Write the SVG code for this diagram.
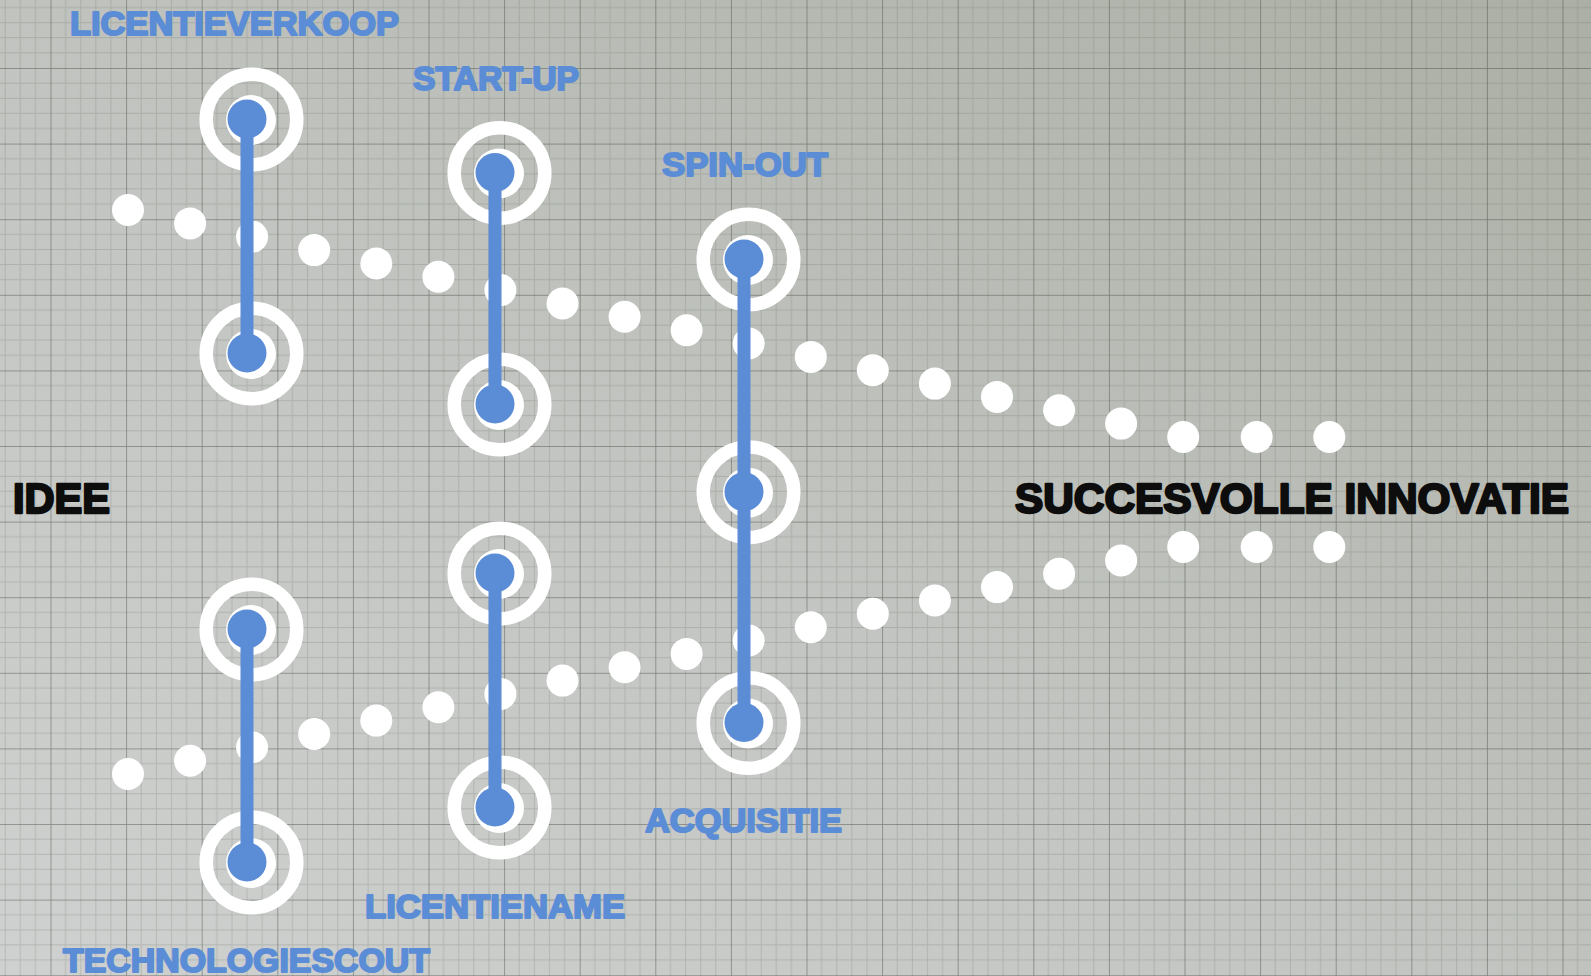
<svg xmlns="http://www.w3.org/2000/svg" xmlns:xlink="http://www.w3.org/1999/xlink" width="1591" height="976" viewBox="0 0 1591 976">
  <style>
    .lbl { font-family: "Liberation Sans", Arial, sans-serif; font-weight: bold; fill: #5b8cd6; stroke: #5b8cd6; stroke-width: 2; stroke-linejoin: round; font-size: 34px; }
    .big { font-family: "Liberation Sans", Arial, sans-serif; font-weight: bold; fill: #0d0d0d; stroke: #0d0d0d; stroke-width: 2.4; stroke-linejoin: round; font-size: 43px; }
    .dot { fill: #ffffff; }
    .bar { stroke: #5b8cd6; stroke-width: 13; stroke-linecap: butt; }
    .minor { stroke: #6b7064; stroke-opacity: 0.26; stroke-width: 1; }
    .major { stroke: #3d4238; stroke-opacity: 0.55; stroke-width: 1.5; }
  </style>
  <defs>
    <linearGradient id="paper" x1="0" y1="1" x2="1" y2="0">
      <stop offset="0" stop-color="#cfd1d0"/>
      <stop offset="0.45" stop-color="#c2c5c1"/>
      <stop offset="1" stop-color="#abafa5"/>
    </linearGradient>
    <!-- graph paper: 5 minor cells per major cell -->
    <pattern id="grid" patternUnits="userSpaceOnUse" x="50.5" y="-7.6" width="75.6" height="75.6">
      <path class="minor" d="M15.12 0V75.6M30.24 0V75.6M45.36 0V75.6M60.48 0V75.6M0 15.12H75.6M0 30.24H75.6M0 45.36H75.6M0 60.48H75.6"/>
      <path class="major" d="M0 0V75.6M0 0H75.6"/>
    </pattern>
    <!-- target: white rings with a blue centre dot -->
    <g id="target">
      <circle cx="4.5" cy="0.5" r="45.3" fill="none" stroke="#ffffff" stroke-width="13.5"/>
      <circle cx="4" cy="1" r="25" fill="#ffffff"/>
      <circle cx="0" cy="0" r="19.5" fill="#5b8cd6"/>
    </g>
  </defs>

  <rect width="1591" height="976" fill="url(#paper)"/>
  <rect width="1591" height="976" fill="url(#grid)"/>

  <!-- dotted paths from idea to innovation -->
  <g id="connectors">
    <g id="path-upper">
      <circle class="dot" cx="128" cy="210" r="16"/>
      <circle class="dot" cx="190.1" cy="223.4" r="16"/>
      <circle class="dot" cx="252.1" cy="236.7" r="16"/>
      <circle class="dot" cx="314.2" cy="250.1" r="16"/>
      <circle class="dot" cx="376.3" cy="263.4" r="16"/>
      <circle class="dot" cx="438.4" cy="276.8" r="16"/>
      <circle class="dot" cx="500.4" cy="290.1" r="16"/>
      <circle class="dot" cx="562.5" cy="303.5" r="16"/>
      <circle class="dot" cx="624.6" cy="316.8" r="16"/>
      <circle class="dot" cx="686.6" cy="330.2" r="16"/>
      <circle class="dot" cx="748.7" cy="343.5" r="16"/>
      <circle class="dot" cx="810.8" cy="356.9" r="16"/>
      <circle class="dot" cx="872.8" cy="370.2" r="16"/>
      <circle class="dot" cx="934.9" cy="383.6" r="16"/>
      <circle class="dot" cx="997" cy="396.9" r="16"/>
      <circle class="dot" cx="1059.1" cy="410.3" r="16"/>
      <circle class="dot" cx="1121.1" cy="423.6" r="16"/>
      <circle class="dot" cx="1183.2" cy="437" r="16"/>
      <circle class="dot" cx="1256.7" cy="437" r="16"/>
      <circle class="dot" cx="1329.3" cy="437" r="16"/>
    </g>
    <g id="path-lower">
      <circle class="dot" cx="128" cy="774" r="16"/>
      <circle class="dot" cx="190.1" cy="760.7" r="16"/>
      <circle class="dot" cx="252.1" cy="747.3" r="16"/>
      <circle class="dot" cx="314.2" cy="734" r="16"/>
      <circle class="dot" cx="376.3" cy="720.6" r="16"/>
      <circle class="dot" cx="438.4" cy="707.3" r="16"/>
      <circle class="dot" cx="500.4" cy="693.9" r="16"/>
      <circle class="dot" cx="562.5" cy="680.6" r="16"/>
      <circle class="dot" cx="624.6" cy="667.2" r="16"/>
      <circle class="dot" cx="686.6" cy="653.9" r="16"/>
      <circle class="dot" cx="748.7" cy="640.5" r="16"/>
      <circle class="dot" cx="810.8" cy="627.2" r="16"/>
      <circle class="dot" cx="872.8" cy="613.8" r="16"/>
      <circle class="dot" cx="934.9" cy="600.5" r="16"/>
      <circle class="dot" cx="997" cy="587.1" r="16"/>
      <circle class="dot" cx="1059.1" cy="573.8" r="16"/>
      <circle class="dot" cx="1121.1" cy="560.4" r="16"/>
      <circle class="dot" cx="1183.2" cy="547" r="16"/>
      <circle class="dot" cx="1256.7" cy="547" r="16"/>
      <circle class="dot" cx="1329.3" cy="547" r="16"/>
    </g>
  </g>

  <!-- start and end -->
  <g id="idee">
    <text class="big" x="13" y="513" textLength="97" lengthAdjust="spacingAndGlyphs">IDEE</text>
  </g>
  <g id="succesvolle-innovatie">
    <text class="big" x="1015" y="513" textLength="554" lengthAdjust="spacingAndGlyphs">SUCCESVOLLE INNOVATIE</text>
  </g>

  <!-- routes -->
  <g id="licentieverkoop">
    <use xlink:href="#target" href="#target" x="247" y="119"/>
    <use xlink:href="#target" href="#target" x="247" y="353"/>
    <line class="bar" x1="247" y1="119" x2="247" y2="353"/>
    <text class="lbl" x="70" y="35" textLength="329" lengthAdjust="spacingAndGlyphs">LICENTIEVERKOOP</text>
  </g>

  <g id="start-up">
    <use xlink:href="#target" href="#target" x="495" y="172.5"/>
    <use xlink:href="#target" href="#target" x="495" y="404"/>
    <line class="bar" x1="495" y1="172.5" x2="495" y2="404"/>
    <text class="lbl" x="413" y="89.5" textLength="166" lengthAdjust="spacingAndGlyphs">START-UP</text>
  </g>

  <g id="spin-out-acquisitie">
    <use xlink:href="#target" href="#target" x="744" y="259"/>
    <use xlink:href="#target" href="#target" x="744" y="491.7"/>
    <use xlink:href="#target" href="#target" x="744" y="722.5"/>
    <line class="bar" x1="744" y1="259" x2="744" y2="722.5"/>
    <text class="lbl" x="662" y="176" textLength="166" lengthAdjust="spacingAndGlyphs">SPIN-OUT</text>
    <text class="lbl" x="645" y="832" textLength="197" lengthAdjust="spacingAndGlyphs">ACQUISITIE</text>
  </g>

  <g id="technologiescout">
    <use xlink:href="#target" href="#target" x="247" y="629"/>
    <use xlink:href="#target" href="#target" x="247" y="862"/>
    <line class="bar" x1="247" y1="629" x2="247" y2="862"/>
    <text class="lbl" x="63" y="972" textLength="367" lengthAdjust="spacingAndGlyphs">TECHNOLOGIESCOUT</text>
  </g>

  <g id="licentiename">
    <use xlink:href="#target" href="#target" x="495" y="573"/>
    <use xlink:href="#target" href="#target" x="495" y="807"/>
    <line class="bar" x1="495" y1="573" x2="495" y2="807"/>
    <text class="lbl" x="365" y="918" textLength="260" lengthAdjust="spacingAndGlyphs">LICENTIENAME</text>
  </g>
</svg>
